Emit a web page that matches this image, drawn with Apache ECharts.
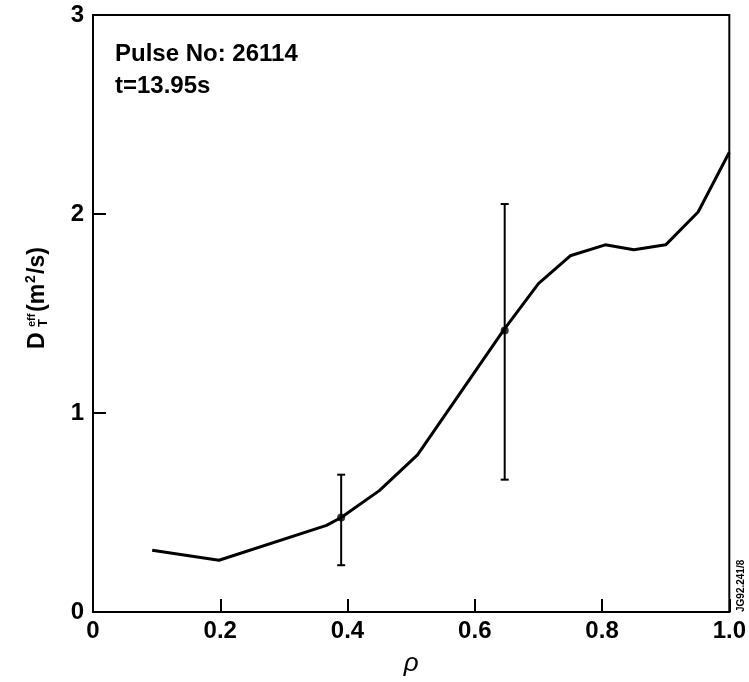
<!DOCTYPE html>
<html>
<head>
<meta charset="utf-8">
<script src="https://cdn.jsdelivr.net/npm/echarts@6/dist/echarts.min.js"></script>
<style>html,body{margin:0;padding:0;background:#fff;}#c{width:749px;height:682px;}</style>
</head>
<body>
<div id="c"></div>
<script>
var rho = [0.093, 0.198, 0.367, 0.39, 0.45, 0.51, 0.645, 0.70, 0.75, 0.805, 0.85, 0.90, 0.951, 1.0];
var dEff = [0.31, 0.26, 0.435, 0.475, 0.61, 0.79, 1.415, 1.65, 1.79, 1.845, 1.82, 1.845, 2.01, 2.31];
var errX = [0.39, 0.647];
var errY = [0.475, 1.415];
var errLow = [0.235, 0.665];
var errHigh = [0.69, 2.05];
var xTicks = ['0', '0.2', '0.4', '0.6', '0.8', '1.0'];
var yTicks = ['0', '1', '2', '3'];
var annot = ['Pulse No: 26114', 't=13.95s'];

var FONT = '"Liberation Sans", Arial, sans-serif';
var chart = echarts.init(document.getElementById('c'));

var lineData = rho.map(function (x, i) { return [x, dEff[i]]; });
var markerData = errX.map(function (x, i) { return [x, errY[i]]; });
var errData = errX.map(function (x, i) { return [x, errLow[i], errHigh[i]]; });

chart.setOption({
  animation: false,
  backgroundColor: '#fff',
  grid: { left: 93, right: 16, top: 15, bottom: 66, show: true, borderColor: '#000', borderWidth: 2, containLabel: false },
  xAxis: {
    type: 'value', min: 0, max: 1, interval: 0.2,
    splitLine: { show: false },
    axisLine: { show: true, onZero: false, lineStyle: { color: '#000', width: 2 } },
    axisTick: { show: true, inside: true, length: 13, lineStyle: { color: '#000', width: 2 } },
    axisLabel: {
      color: '#000', fontSize: 24, fontWeight: 'bold', fontFamily: FONT, margin: 7,
      formatter: function (v) { return xTicks[Math.round(v / 0.2)]; }
    },
    name: 'ρ', nameLocation: 'middle', nameGap: 39,
    nameTextStyle: { color: '#000', fontSize: 26, fontFamily: FONT, fontStyle: 'italic' }
  },
  yAxis: {
    type: 'value', min: 0, max: 3, interval: 1,
    splitLine: { show: false },
    axisLine: { show: true, onZero: false, lineStyle: { color: '#000', width: 2 } },
    axisTick: { show: true, inside: true, length: 13, lineStyle: { color: '#000', width: 2 } },
    axisLabel: {
      color: '#000', fontSize: 24, fontWeight: 'bold', fontFamily: FONT, margin: 9,
      formatter: function (v) { return yTicks[Math.round(v)]; }
    }
  },
  graphic: [
    { type: 'text', left: 115, top: 42, style: { text: annot[0], font: 'bold 24px ' + FONT, fill: '#000' } },
    { type: 'text', left: 115, top: 74, style: { text: annot[1], font: 'bold 24px ' + FONT, fill: '#000' } },
    {
      type: 'group', x: 38, y: 349, rotation: Math.PI / 2,
      children: [
        { type: 'text', x: 0, y: 0, style: { text: 'D', font: 'bold 23px ' + FONT, fill: '#000', verticalAlign: 'middle', align: 'left' } },
        { type: 'text', x: 22, y: -6, style: { text: 'eff', font: 'bold 11px ' + FONT, fill: '#000', verticalAlign: 'middle', align: 'left' } },
        { type: 'text', x: 22, y: 5, style: { text: 'T', font: 'bold 13px ' + FONT, fill: '#000', verticalAlign: 'middle', align: 'left' } },
        { type: 'text', x: 37, y: 0, style: { text: '(m', font: 'bold 23px ' + FONT, fill: '#000', verticalAlign: 'middle', align: 'left' } },
        { type: 'text', x: 66, y: -7, style: { text: '2', font: 'bold 14px ' + FONT, fill: '#000', verticalAlign: 'middle', align: 'left' } },
        { type: 'text', x: 75, y: 0, style: { text: '/s)', font: 'bold 23px ' + FONT, fill: '#000', verticalAlign: 'middle', align: 'left' } }
      ]
    },
    {
      type: 'text', x: 741, y: 612, rotation: Math.PI / 2,
      style: { text: 'JG92.241/8', font: 'bold 10px ' + FONT, fill: '#000', verticalAlign: 'middle', align: 'left' }
    }
  ],
  series: [
    {
      type: 'line', data: lineData, showSymbol: false, symbol: 'none',
      lineStyle: { color: '#000', width: 3 }, z: 3
    },
    {
      type: 'scatter', data: markerData, symbol: 'circle', symbolSize: 8,
      itemStyle: { color: '#000' }, z: 4
    },
    {
      type: 'custom', data: errData, z: 2,
      renderItem: function (params, api) {
        var x = api.value(0);
        var lo = api.coord([x, api.value(1)]);
        var hi = api.coord([x, api.value(2)]);
        var w = 4;
        var st = { stroke: '#000', lineWidth: 2 };
        return {
          type: 'group',
          children: [
            { type: 'line', shape: { x1: lo[0], y1: lo[1], x2: hi[0], y2: hi[1] }, style: st },
            { type: 'line', shape: { x1: lo[0] - w, y1: lo[1], x2: lo[0] + w, y2: lo[1] }, style: st },
            { type: 'line', shape: { x1: hi[0] - w, y1: hi[1], x2: hi[0] + w, y2: hi[1] }, style: st }
          ]
        };
      }
    }
  ]
});
</script>
</body>
</html>
